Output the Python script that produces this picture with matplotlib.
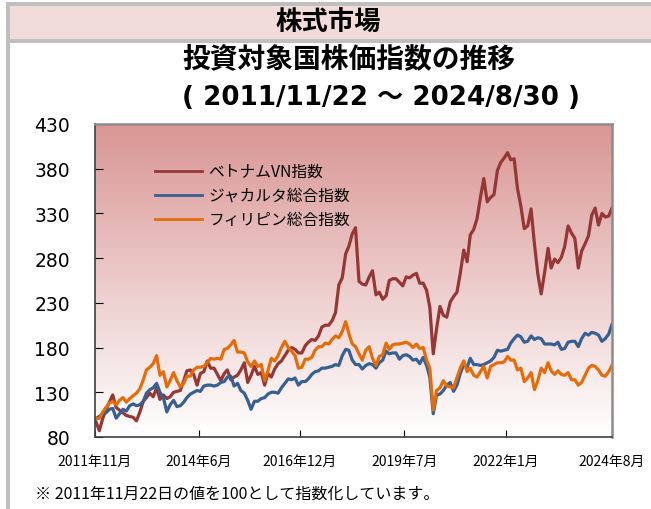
import pandas as pd
import matplotlib.pyplot as plt
import matplotlib.dates as mdates
import numpy as np
from matplotlib.patches import Rectangle
from matplotlib.colors import LinearSegmentedColormap

plt.rcParams['font.family'] = ['DejaVu Sans', 'Noto Sans CJK JP']
JP = 'Noto Sans CJK JP'

# 日付: 基準日 + 月末 + 最終日
dates = ([pd.Timestamp('2011-11-22')]
         + list(pd.date_range('2011-12-31', '2024-07-31', freq='ME'))
         + [pd.Timestamp('2024-08-30')])

# ベトナムVN指数 (2011/11/22 = 100)
vn = [100, 87,
      101, 110, 119, 127, 113, 110, 107, 104, 103, 102, 98, 108,
      120, 124, 129, 125, 135, 122, 127, 123, 125, 130, 131, 132,
      143, 154, 155, 150, 138, 151, 153, 165, 157, 157, 150, 143,
      151, 155, 144, 147, 149, 155, 163, 141, 149, 159, 150, 152,
      138, 151, 147, 156, 162, 165, 171, 177, 180, 178, 174, 174,
      182, 186, 189, 188, 193, 203, 205, 205, 210, 219, 250, 258,
      285, 293, 307, 314, 254, 251, 250, 259, 266, 239, 242, 234,
      238, 255, 257, 257, 253, 249, 259, 258, 261, 263, 252, 252,
      244, 225, 173, 201, 226, 216, 214, 231, 237, 242, 263, 289,
      276, 306, 312, 324, 348, 369, 343, 348, 351, 378, 387, 392,
      398, 390, 391, 358, 338, 313, 316, 335, 296, 262, 240, 264,
      291, 269, 279, 275, 281, 293, 316, 308, 302, 269, 288, 296,
      305, 328, 336, 317, 330, 326, 327,
      336]

# ジャカルタ総合指数
jkt = [100, 103,
       106, 107, 111, 112, 101, 106, 111, 109, 115, 117, 115, 116,
       120, 129, 133, 135, 140, 130, 124, 108, 116, 121, 114, 115,
       119, 124, 128, 130, 132, 131, 137, 138, 138, 137, 138, 141,
       142, 147, 148, 137, 140, 132, 129, 121, 111, 120, 120, 123,
       124, 128, 130, 130, 129, 135, 140, 145, 144, 146, 138, 142,
       142, 145, 150, 153, 154, 157, 157, 158, 159, 161, 160, 171,
       178, 177, 166, 161, 161, 156, 160, 162, 161, 157, 163, 166,
       176, 173, 174, 174, 167, 171, 172, 170, 166, 167, 162, 169,
       160, 147, 106, 127, 128, 132, 138, 141, 131, 138, 151, 161,
       158, 168, 161, 161, 160, 161, 163, 165, 169, 177, 176, 177,
       178, 185, 190, 194, 192, 186, 187, 193, 189, 191, 190, 184,
       184, 184, 183, 186, 178, 179, 186, 187, 187, 181, 190, 196,
       194, 197, 196, 194, 187, 190, 195,
       206]

# フィリピン総合指数
phl = [100, 101,
       108, 113, 118, 120, 116, 121, 124, 119, 123, 126, 129, 134,
       144, 155, 158, 162, 171, 149, 153, 136, 143, 152, 143, 136,
       140, 148, 148, 155, 158, 158, 159, 163, 168, 167, 168, 167,
       178, 179, 183, 188, 175, 175, 174, 164, 159, 165, 159, 161,
       143, 154, 168, 165, 171, 180, 187, 180, 176, 171, 157, 158,
       167, 167, 169, 177, 181, 181, 185, 184, 189, 193, 191, 198,
       209, 196, 184, 181, 173, 166, 177, 181, 168, 160, 170, 172,
       185, 178, 183, 184, 184, 185, 186, 184, 180, 184, 179, 180,
       166, 157, 110, 132, 135, 143, 137, 136, 135, 146, 157, 165,
       153, 157, 149, 147, 153, 159, 146, 159, 161, 163, 163, 164,
       170, 166, 166, 155, 157, 142, 146, 152, 133, 143, 157, 152,
       163, 154, 150, 154, 150, 149, 152, 144, 144, 138, 141, 149,
       157, 160, 159, 155, 149, 148, 153,
       160]

series_names = ['ベトナムVN指数', 'ジャカルタ総合指数', 'フィリピン総合指数']
colors = ['#953735', '#376092', '#E46C0A']

tick_dates = ['2011-11-22', '2014-06-15', '2016-12-15', '2019-07-15', '2022-01-15', '2024-08-30']
tick_labels = ['2011年11月', '2014年6月', '2016年12月', '2019年7月', '2022年1月', '2024年8月']
y_ticks = [80, 130, 180, 230, 280, 330, 380, 430]

W, H = 651, 510
fig = plt.figure(figsize=(W / 100, H / 100), dpi=100)

# 外枠と見出し帯
def px_rect(x0, y0, x1, y1, color):
    fig.patches.append(Rectangle((x0 / W, 1 - y1 / H), (x1 - x0) / W, (y1 - y0) / H,
                                 transform=fig.transFigure, facecolor=color,
                                 edgecolor='none', zorder=0))

px_rect(6, 3, W, 7, '#BFBFBF')
px_rect(6, 3, 10, H, '#BFBFBF')
px_rect(10, 7, W, 40, '#F2DCDB')
px_rect(10, 40, W, 44, '#BFBFBF')

fig.text(328 / W, 1 - 23 / H, '株式市場', family=JP, fontsize=19, fontweight='bold',
         ha='center', va='center')
fig.text(182 / W, 1 - 59 / H, '投資対象国株価指数の推移', family=JP, fontsize=20,
         fontweight='bold', ha='left', va='center')
fig.text(182 / W, 1 - 98 / H, '( 2011/11/22 ～ 2024/8/30 )', family=['DejaVu Sans', JP],
         fontsize=18.8, fontweight='bold', ha='left', va='center')

ax = fig.add_axes([95 / W, 1 - 438 / H, (612 - 95) / W, (438 - 125) / H])

# 背景グラデーション
cmap = LinearSegmentedColormap.from_list('bg', ['#FFFFFF', '#D99694'])
grad = np.linspace(0, 1, 256).reshape(-1, 1)
ax.imshow(grad, cmap=cmap, aspect='auto', extent=[0, 1, 0, 1], origin='lower',
          transform=ax.transAxes, zorder=0)

for vals, name, c in zip([vn, jkt, phl], series_names, colors):
    ax.plot(dates, vals, color=c, lw=2.3, label=name, zorder=2)

ax.set_xlim(pd.Timestamp('2011-11-22'), pd.Timestamp('2024-08-30'))
ax.set_ylim(80, 430)
ax.set_yticks(y_ticks)
ax.set_xticks([mdates.date2num(pd.Timestamp(d)) for d in tick_dates])
ax.set_xticklabels(tick_labels, family=JP, fontsize=10)
ax.tick_params(axis='y', direction='in', length=6, labelsize=13.5, pad=18)
ax.tick_params(axis='x', direction='in', length=5, pad=12)

for s in ['top', 'right']:
    ax.spines[s].set_color('#8C8C8C')
    ax.spines[s].set_linewidth(1.8)
for s in ['left', 'bottom']:
    ax.spines[s].set_color('#404040')
    ax.spines[s].set_linewidth(1.2)

leg = ax.legend(loc='upper left', bbox_to_anchor=(155 / W, 1 - 164 / H),
                bbox_transform=fig.transFigure, frameon=False,
                prop={'family': JP, 'size': 11.3}, handlelength=3.0,
                handletextpad=0.4, labelspacing=0.45, borderpad=0, borderaxespad=0)
for line in leg.get_lines():
    line.set_linewidth(2)

fig.text(35 / W, 1 - 494 / H, '※ 2011年11月22日の値を100として指数化しています。',
         family=JP, fontsize=11.5, ha='left', va='center')

fig.savefig('out.png', dpi=100)
